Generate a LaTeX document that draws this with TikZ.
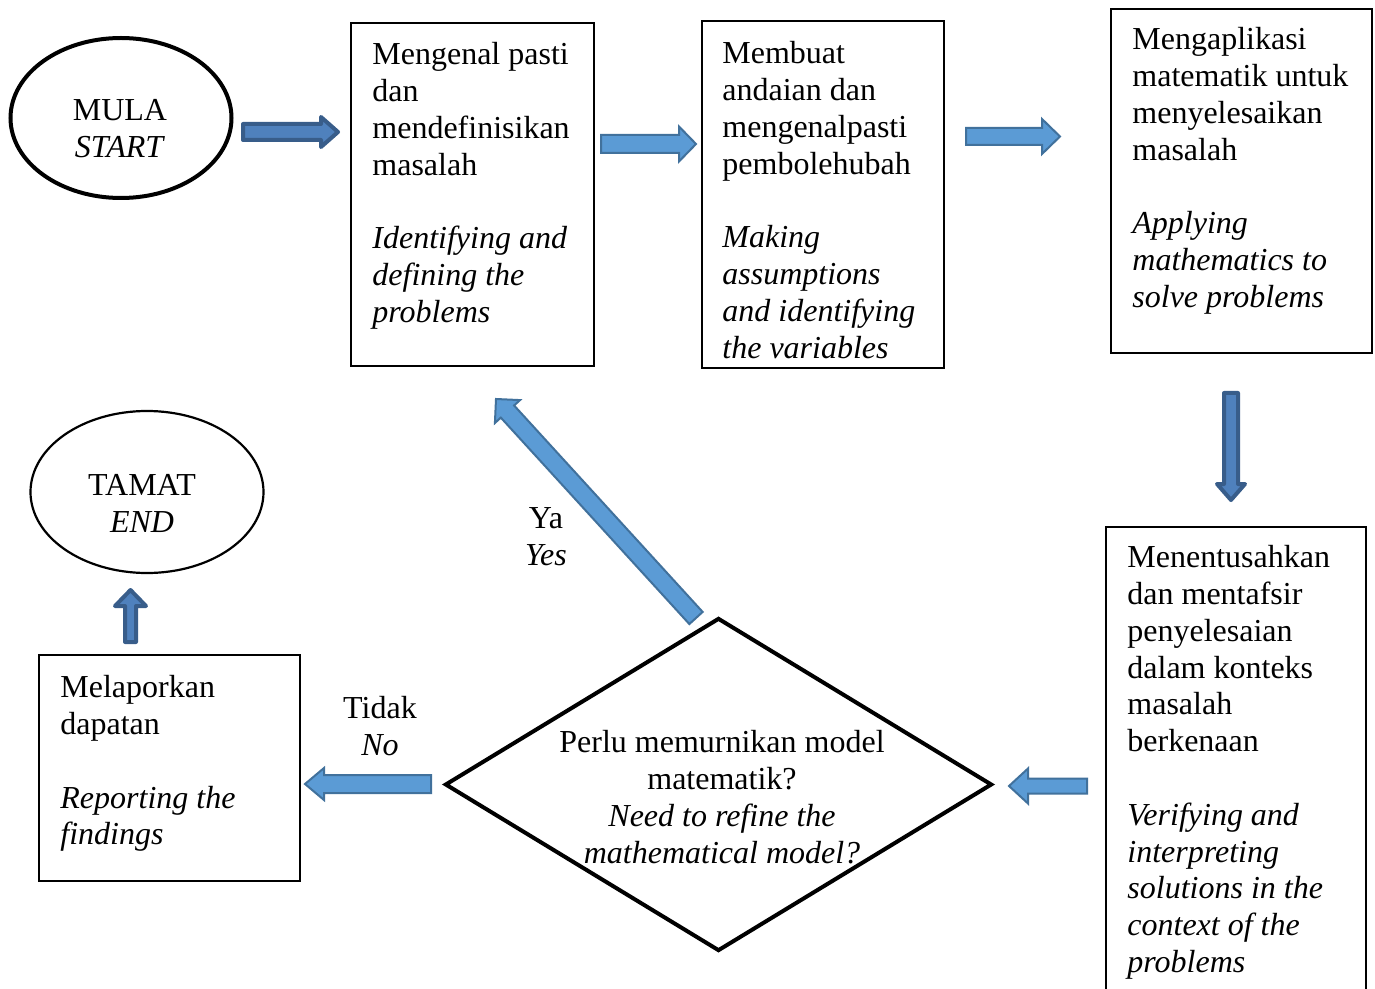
\documentclass[tikz,border=0pt]{standalone}
\usepackage{fontspec}
\setmainfont{Liberation Serif}
\usetikzlibrary{shapes.geometric,calc,fit}
\definecolor{thinfill}{HTML}{5B9BD5}
\definecolor{thinline}{HTML}{41719C}
\definecolor{thickfill}{HTML}{4F81BD}
\definecolor{thickline}{HTML}{385D8A}
\tikzset{
  box/.style={draw=black, line width=0.75pt, inner sep=0pt},
  txt/.style={inner sep=0pt, align=left, anchor=north west, font=\fontsize{16}{18.4}\selectfont},
  ctxt/.style={inner sep=0pt, align=center, anchor=north, font=\fontsize{16}{18.4}\selectfont},
  thinarr/.style={fill=thinfill, draw=thinline, line width=1pt, line join=miter},
  thickarr/.style={fill=thickfill, draw=thickline, line width=2pt, line join=round},
}
% #1 style, #2 tail, #3 tip, #4 half shaft, #5 half head, #6 head length
\newcommand{\blockarr}[6]{%
  \coordinate (hb) at ($(#3)!#6!(#2)$);
  \path[#1] ($(#2)!#4!90:(#3)$) -- ($(hb)!#4!90:(#3)$) -- ($(hb)!#5!90:(#3)$)
    -- (#3) -- ($(hb)!#5!-90:(#3)$) -- ($(hb)!#4!-90:(#3)$) -- ($(#2)!#4!-90:(#3)$) -- cycle;
}
\begin{document}
\begin{tikzpicture}[x=0.5pt,y=-0.5pt]
\useasboundingbox (0,0) rectangle (1375,989);
\fill[white] (0,0) rectangle (1375,989);

% terminals
\node[draw, ellipse, line width=2pt, minimum width=110.5pt, minimum height=80pt, inner sep=0pt] (start) at (121,118) {};
\node[ctxt] (starttxt) at (120,99) {MULA\\\textit{START}};
\node[draw, ellipse, line width=1.1pt, minimum width=116.5pt, minimum height=81pt, inner sep=0pt] (end) at (147,492) {};
\node[ctxt] (endtxt) at (142,474) {TAMAT\\\textit{END}};

% boxes
\node[box, fit={(351,23) (594,366)}] (b1) {};
\node[txt] (t1) at (372,42) {Mengenal pasti\\dan\\mendefinisikan\\masalah\\[18.4pt]\textit{Identifying and}\\\textit{defining the}\\\textit{problems}};
\node[box, fit={(702,21) (944,368)}] (b2) {};
\node[txt] (t2) at (722,41) {Membuat\\andaian dan\\mengenalpasti\\pembolehubah\\[18.4pt]\textit{Making}\\\textit{assumptions}\\\textit{and identifying}\\\textit{the variables}};
\node[box, fit={(1111,9) (1372,353)}] (b3) {};
\node[txt] (t3) at (1132,27) {Mengaplikasi\\matematik untuk\\menyelesaikan\\masalah\\[18.4pt]\textit{Applying}\\\textit{mathematics to}\\\textit{solve problems}};
\node[box, fit={(1106,527) (1366,1000)}] (b4) {};
\node[txt] (t4) at (1127,545) {Menentusahkan\\dan mentafsir\\penyelesaian\\dalam konteks\\masalah\\berkenaan\\[18.4pt]\textit{Verifying and}\\\textit{interpreting}\\\textit{solutions in the}\\\textit{context of the}\\\textit{problems}};
\node[box, fit={(39,655) (300,881)}] (b5) {};
\node[txt] (t5) at (60,675) {Melaporkan\\dapatan\\[18.4pt]\textit{Reporting the}\\\textit{findings}};

% decision
\node[draw, diamond, line width=2pt, minimum width=273.5pt, minimum height=166.5pt, inner sep=0pt] (dec) at (718.5,784.5) {};
\node[ctxt] (dectxt) at (722,730) {Perlu memurnikan model\\matematik?\\\textit{Need to refine the}\\\textit{mathematical model?}};

% labels
\node[ctxt] (ya) at (546,507) {Ya\\\textit{Yes}};
\node[ctxt] (tidak) at (380,696) {Tidak\\\textit{No}};

% arrow end points
\coordinate (a1s) at (243,132);  \coordinate (a1e) at (338,132);
\coordinate (a2s) at (601,144);  \coordinate (a2e) at (696,144);
\coordinate (a3s) at (966,136.5); \coordinate (a3e) at (1060,136.5);
\coordinate (a4s) at (1231,393); \coordinate (a4e) at (1231,500);
\coordinate (a5s) at (1087,786); \coordinate (a5e) at (1009,786);
\coordinate (a6s) at (431,784);  \coordinate (a6e) at (305,784);
\coordinate (a7s) at (130.5,642); \coordinate (a7e) at (130.5,590);
\coordinate (a8s) at (696,618);  \coordinate (a8e) at (496,399);

\blockarr{thickarr}{a1s}{a1e}{4pt}{7.5pt}{8.5pt}
\blockarr{thinarr}{a2s}{a2e}{4.5pt}{8.75pt}{8.5pt}
\blockarr{thinarr}{a3s}{a3e}{4.25pt}{8.75pt}{9pt}
\blockarr{thickarr}{a4s}{a4e}{3.5pt}{7pt}{8pt}
\blockarr{thinarr}{a5s}{a5e}{3.75pt}{8.75pt}{9.5pt}
\blockarr{thinarr}{a6s}{a6e}{4.5pt}{8pt}{9.5pt}
\blockarr{thickarr}{a7s}{a7e}{2.75pt}{7.75pt}{8pt}
\blockarr{thinarr}{a8s}{a8e}{4.5pt}{8.5pt}{8.5pt}
\end{tikzpicture}
\end{document}
